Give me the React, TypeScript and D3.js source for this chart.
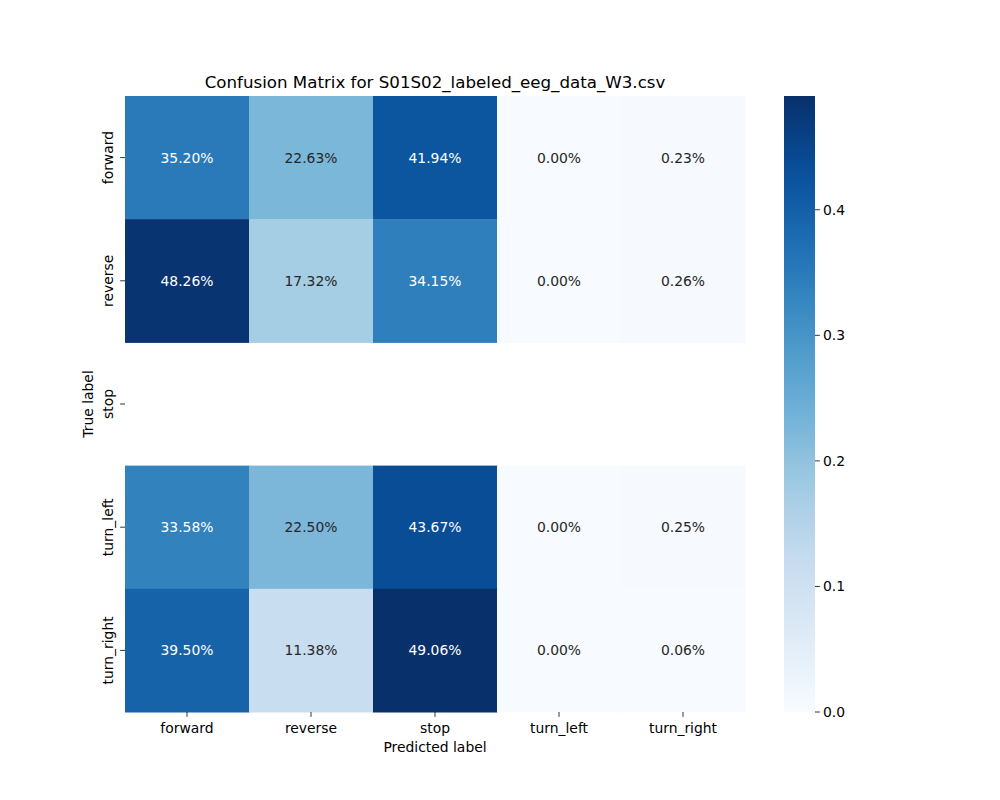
import * as d3 from "d3";
import { useEffect, useRef } from "react";

const labels = ["forward", "reverse", "stop", "turn_left", "turn_right"];
const rowForward = [0.352, 0.2263, 0.4194, 0.0, 0.0023];
const rowReverse = [0.4826, 0.1732, 0.3415, 0.0, 0.0026];
const rowStop = [NaN, NaN, NaN, NaN, NaN];
const rowTurnLeft = [0.3358, 0.225, 0.4367, 0.0, 0.0025];
const rowTurnRight = [0.395, 0.1138, 0.4906, 0.0, 0.0006];
const matrix = [rowForward, rowReverse, rowStop, rowTurnLeft, rowTurnRight];
const cbarTicks = [0, 0.1, 0.2, 0.3, 0.4];

// matplotlib "Blues" anchors
const blues = ["#f7fbff", "#deebf7", "#c6dbef", "#9ecae1", "#6baed6", "#4292c6", "#2171b5", "#08519c", "#08306b"];

const FONT = "DejaVu Sans, sans-serif";
const FS = 13.9;
const TICK = 4.86;

function luminance(c: string) {
  const rgb = d3.rgb(c);
  const f = (v: number) => {
    const s = v / 255;
    return s <= 0.03928 ? s / 12.92 : Math.pow((s + 0.055) / 1.055, 2.4);
  };
  return 0.2126 * f(rgb.r) + 0.7152 * f(rgb.g) + 0.0722 * f(rgb.b);
}

export default function App() {
  const ref = useRef<SVGSVGElement>(null);

  useEffect(() => {
    const svg = d3.select(ref.current!);
    svg.selectAll("*").remove();

    const m = { left: 125, right: 745, top: 96, bottom: 712 };
    const vmax = d3.max(matrix.flat().filter((v) => !isNaN(v))) ?? 1;

    const x = d3.scaleBand().domain(labels).range([m.left, m.right]);
    const y = d3.scaleBand().domain(labels).range([m.top, m.bottom]);
    const t = d3.scaleLinear().domain([0, vmax]).range([0, 1]);
    const ramp = d3
      .scaleLinear<string>()
      .domain(blues.map((_, i) => i / (blues.length - 1)))
      .range(blues)
      .interpolate(d3.interpolateRgb);
    const color = (v: number) => ramp(t(v));

    // cells
    const cells = matrix.flatMap((row, i) =>
      row.map((v, j) => ({ r: labels[i], c: labels[j], v }))
    );
    const valid = cells.filter((d) => !isNaN(d.v));

    svg
      .append("g")
      .selectAll("rect")
      .data(valid)
      .join("rect")
      .attr("x", (d) => x(d.c)!)
      .attr("y", (d) => y(d.r)!)
      .attr("width", x.bandwidth() + 0.5)
      .attr("height", y.bandwidth() + 0.5)
      .attr("fill", (d) => color(d.v));

    svg
      .append("g")
      .selectAll("text")
      .data(valid)
      .join("text")
      .attr("x", (d) => x(d.c)! + x.bandwidth() / 2)
      .attr("y", (d) => y(d.r)! + y.bandwidth() / 2)
      .attr("text-anchor", "middle")
      .attr("dominant-baseline", "central")
      .attr("font-family", FONT)
      .attr("font-size", FS)
      .attr("fill", (d) => (luminance(color(d.v)) > 0.408 ? "#262626" : "#ffffff"))
      .text((d) => (d.v * 100).toFixed(2) + "%");

    // x axis
    const gx = svg.append("g").attr("font-family", FONT).attr("font-size", FS);
    labels.forEach((l) => {
      const cx = x(l)! + x.bandwidth() / 2;
      gx.append("line")
        .attr("x1", cx).attr("x2", cx)
        .attr("y1", m.bottom).attr("y2", m.bottom + TICK)
        .attr("stroke", "#000").attr("stroke-width", 0.8);
      gx.append("text")
        .attr("x", cx).attr("y", m.bottom + 21)
        .attr("text-anchor", "middle")
        .text(l);
    });
    gx.append("text")
      .attr("x", (m.left + m.right) / 2).attr("y", m.bottom + 40)
      .attr("text-anchor", "middle")
      .text("Predicted label");

    // y axis
    const gy = svg.append("g").attr("font-family", FONT).attr("font-size", FS);
    labels.forEach((l) => {
      const cy = y(l)! + y.bandwidth() / 2;
      gy.append("line")
        .attr("x1", m.left - TICK).attr("x2", m.left)
        .attr("y1", cy).attr("y2", cy)
        .attr("stroke", "#000").attr("stroke-width", 0.8);
      gy.append("text")
        .attr("transform", `translate(${m.left - 12},${cy}) rotate(-90)`)
        .attr("text-anchor", "middle")
        .text(l);
    });
    gy.append("text")
      .attr("transform", `translate(${m.left - 32},${(m.top + m.bottom) / 2}) rotate(-90)`)
      .attr("text-anchor", "middle")
      .text("True label");

    // title
    svg.append("text")
      .attr("x", (m.left + m.right) / 2).attr("y", 88)
      .attr("text-anchor", "middle")
      .attr("font-family", FONT)
      .attr("font-size", 16.67)
      .text("Confusion Matrix for S01S02_labeled_eeg_data_W3.csv");

    // colorbar
    const cb = { x0: 784, x1: 815 };
    const cy = d3.scaleLinear().domain([0, vmax]).range([m.bottom, m.top]);
    const grad = svg.append("defs").append("linearGradient")
      .attr("id", "cbar").attr("x1", 0).attr("x2", 0).attr("y1", 1).attr("y2", 0);
    d3.range(0, 1.0001, 0.05).forEach((s) => {
      grad.append("stop").attr("offset", s).attr("stop-color", ramp(s));
    });
    svg.append("rect")
      .attr("x", cb.x0).attr("y", m.top)
      .attr("width", cb.x1 - cb.x0).attr("height", m.bottom - m.top)
      .attr("fill", "url(#cbar)");
    const gc = svg.append("g").attr("font-family", FONT).attr("font-size", FS);
    cbarTicks.forEach((v) => {
      gc.append("line")
        .attr("x1", cb.x1).attr("x2", cb.x1 + TICK)
        .attr("y1", cy(v)).attr("y2", cy(v))
        .attr("stroke", "#000").attr("stroke-width", 0.8);
      gc.append("text")
        .attr("x", cb.x1 + 8).attr("y", cy(v))
        .attr("dominant-baseline", "central")
        .text(v.toFixed(1));
    });
  }, []);

  return <svg ref={ref} width={1000} height={800} style={{ display: "block", margin: -8 }} />;
}
